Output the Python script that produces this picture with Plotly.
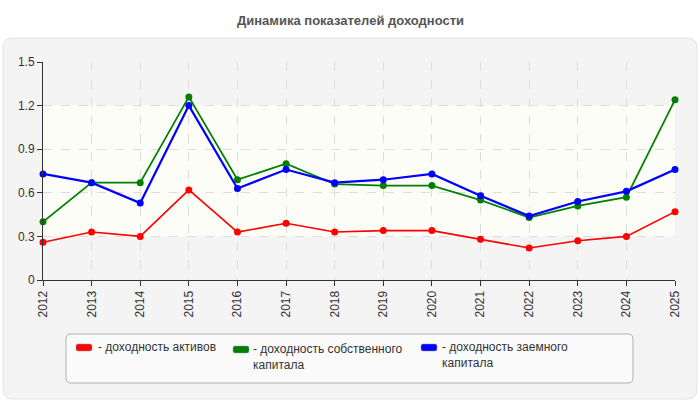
import plotly.graph_objects as go

years = [2012, 2013, 2014, 2015, 2016, 2017, 2018, 2019, 2020, 2021, 2022, 2023, 2024, 2025]
roa = [0.26, 0.33, 0.30, 0.62, 0.33, 0.39, 0.33, 0.34, 0.34, 0.28, 0.22, 0.27, 0.30, 0.47]
roe = [0.40, 0.67, 0.67, 1.26, 0.69, 0.80, 0.66, 0.65, 0.65, 0.55, 0.43, 0.51, 0.57, 1.24]
rod = [0.73, 0.67, 0.53, 1.20, 0.63, 0.76, 0.67, 0.69, 0.73, 0.58, 0.44, 0.54, 0.61, 0.76]
names = ["- доходность активов", "- доходность собственного<br>капитала", "- доходность заемного<br>капитала"]
colors = ["#ff0000", "#008000", "#0000ff"]
y_ticks = [0, 0.3, 0.6, 0.9, 1.2, 1.5]
y_tick_text = ["0", "0.3", "0.6", "0.9", "1.2", "1.5"]
title = "Динамика показателей доходности"

W, H = 700, 400
def px(x):
    return x / W
def py(y):
    return 1 - y / H

fig = go.Figure()
for vals, c, w in zip([roa, roe, rod], colors, [1.6, 1.8, 2.2]):
    fig.add_trace(go.Scatter(x=years, y=vals, mode="lines+markers",
                             line=dict(color=c, width=w),
                             marker=dict(color=c, size=7),
                             cliponaxis=False, showlegend=False))

def rrect(x0, y0, x1, y1, r):
    X0, X1 = px(x0), px(x1)
    Y0, Y1 = py(y0), py(y1)
    rx, ry = r / W, r / H
    return (f"M{X0+rx},{Y0} L{X1-rx},{Y0} Q{X1},{Y0} {X1},{Y0-ry} "
            f"L{X1},{Y1+ry} Q{X1},{Y1} {X1-rx},{Y1} L{X0+rx},{Y1} "
            f"Q{X0},{Y1} {X0},{Y1+ry} L{X0},{Y0-ry} Q{X0},{Y0} {X0+rx},{Y0} Z")

shapes = [
    dict(type="path", xref="paper", yref="paper", path=rrect(3, 38, 697, 399, 10),
         fillcolor="#f4f4f4", line=dict(color="#e2e2e2", width=1), layer="below"),
    dict(type="path", xref="paper", yref="paper", path=rrect(66, 334, 633, 383, 5),
         fillcolor="#fafafa", line=dict(color="#b0b0b0", width=1), layer="below"),
    dict(type="rect", xref="paper", yref="y", x0=px(43), x1=px(675), y0=0.3, y1=1.2,
         fillcolor="#fdfdf8", line=dict(width=0), layer="below"),
]
annotations = [dict(text=f"<b>{title}</b>", x=0.5, y=py(20), xref="paper", yref="paper",
                    yanchor="middle", showarrow=False,
                    font=dict(family="Liberation Sans, Arial", size=13, color="#555555"))]

sw = [(76, 344), (233, 346), (421, 344)]
tx = [(96, 338), (251, 340), (440, 338)]
for (sx, sy), (ax, ay), c, n in zip(sw, tx, colors, names):
    shapes.append(dict(type="path", xref="paper", yref="paper", path=rrect(sx, sy, sx + 16, sy + 7, 2),
                       fillcolor=c, line=dict(color="#999999", width=0.5)))
    annotations.append(dict(text=n, x=px(ax), y=py(ay), xref="paper", yref="paper",
                            xanchor="left", yanchor="top", align="left", showarrow=False,
                            font=dict(family="Liberation Sans, Arial", size=12, color="#333333")))

fig.update_layout(
    width=W, height=H, margin=dict(l=0, r=0, t=0, b=0, autoexpand=False),
    paper_bgcolor="white", plot_bgcolor="#f9f9f9",
    shapes=shapes, annotations=annotations,
    font=dict(family="Liberation Sans, Arial", size=12, color="#333333"),
    xaxis=dict(domain=[px(43), px(675)], range=[2012, 2025], tickmode="array", tickvals=years,
               ticktext=[str(y) for y in years], tickangle=-90, ticks="outside", ticklen=5,
               tickcolor="#333", showline=True, linecolor="#333", linewidth=1, automargin=False,
               showgrid=True, gridcolor="#dddddd", griddash="dash", zeroline=False,
               tickfont=dict(size=12, color="#333")),
    yaxis=dict(domain=[py(280), py(62)], range=[0, 1.5], tickmode="array", tickvals=y_ticks,
               ticktext=y_tick_text, ticks="outside", ticklen=5, tickcolor="#333",
               showline=True, linecolor="#333", linewidth=1, automargin=False,
               showgrid=True, gridcolor="#dddddd", griddash="dash", zeroline=False,
               tickfont=dict(size=12, color="#333")),
)
fig.write_html("out.html")
